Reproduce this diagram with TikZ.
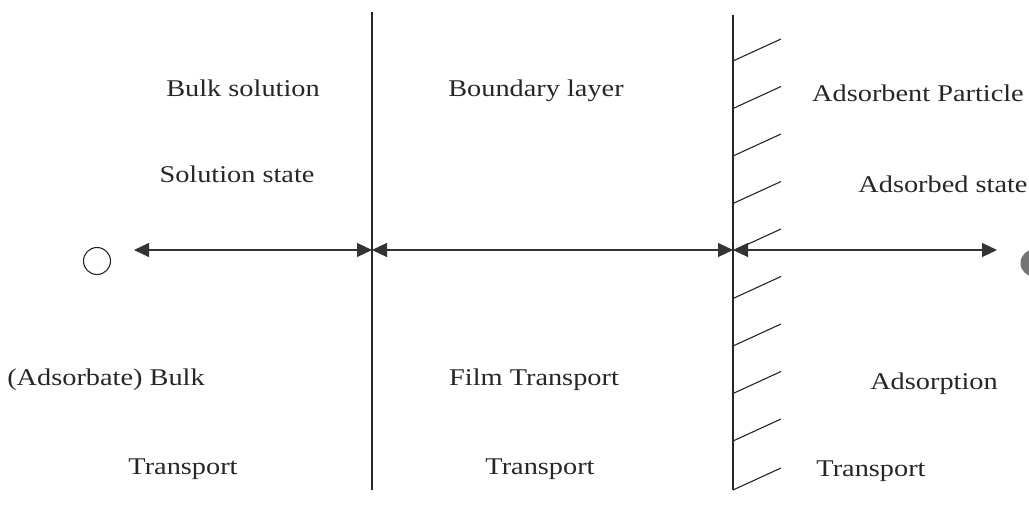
\documentclass[tikz,border=0pt]{standalone}
\usepackage{fontspec}
\setmainfont{Liberation Serif}
\usetikzlibrary{arrows.meta}
\newcommand{\wtxt}[1]{\scalebox{1.18}[1]{#1}}
\begin{document}
\begin{tikzpicture}[x=1pt,y=-1pt,
  lbl/.style={font=\fontsize{24}{28}\selectfont, text=black!85, inner sep=0pt, anchor=base},
  wall/.style={line width=1.3pt, black!85},
  hatch/.style={line width=1.1pt, black!85},
  link/.style={line width=1.1pt, black!80, {Triangle[length=15pt,width=14pt]}-{Triangle[length=15pt,width=14pt]}}]
\useasboundingbox (0,0) rectangle (1029,508);
\begin{scope}
\clip (0,0) rectangle (1029,508);
% walls
\coordinate (w1t) at (372,12);
\coordinate (w1b) at (372,490);
\coordinate (w2t) at (733,15);
\coordinate (w2b) at (733,490);
\draw[wall] (w1t) -- (w1b);
\draw[wall] (w2t) -- (w2b);
\foreach \y in {61,108.5,156,203.5,251,298.5,346,393.5,441,490}
  \draw[hatch] (733,\y) -- ++(48,-22);
% circles
\node[draw=black!85, line width=1.1pt, circle, minimum size=27pt, inner sep=0pt] (c1) at (97,261) {};
\node[fill=black!55, circle, minimum size=27pt, inner sep=0pt] (c2) at (1034,263) {};
% arrows
\coordinate (a0) at (134,250);
\coordinate (a1) at (372,250);
\coordinate (a2) at (733,250);
\coordinate (a3) at (997,250);
\draw[link] (a0) -- (a1);
\draw[link] (a1) -- (a2);
\draw[link] (a2) -- (a3);
\end{scope}
% labels
\node[lbl] (t1) at (243,97) {\wtxt{Bulk solution}};
\node[lbl] (t2) at (536,97) {\wtxt{Boundary layer}};
\node[lbl] (t3) at (918,102) {\wtxt{Adsorbent Particle}};
\node[lbl] (t4) at (237,183) {\wtxt{Solution state}};
\node[lbl] (t5) at (943,193) {\wtxt{Adsorbed state}};
\node[lbl] (t6) at (106,385) {\wtxt{(Adsorbate) Bulk}};
\node[lbl] (t7) at (534,385) {\wtxt{Film Transport}};
\node[lbl] (t8) at (934,389) {\wtxt{Adsorption}};
\node[lbl] (t9) at (183,474) {\wtxt{Transport}};
\node[lbl] (t10) at (540,474) {\wtxt{Transport}};
\node[lbl] (t11) at (871,476) {\wtxt{Transport}};
\end{tikzpicture}
\end{document}
